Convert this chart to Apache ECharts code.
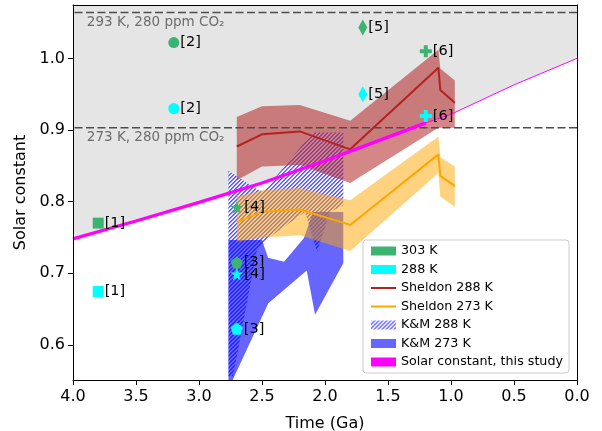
<!DOCTYPE html>
<html><head><meta charset="utf-8">
<script src="https://cdn.jsdelivr.net/npm/echarts@6/dist/echarts.min.js"></script>
<style>html,body{margin:0;padding:0;background:#fff}#c{width:602px;height:431px}</style>
</head><body><div id="c"></div>
<script>
// ---------- data ----------
const xTicks = [0, 0.5, 1, 1.5, 2, 2.5, 3, 3.5, 4];
const yTicks = [0.6, 0.7, 0.8, 0.9, 1.0];

const refLabels = ['[1]', '[2]', '[3]', '[4]', '[5]', '[6]'];
const refTime   = [3.8, 3.2, 2.7, 2.7, 1.7, 1.2];
const s303K     = [0.770, 1.022, 0.715, 0.792, 1.043, 1.010];
const s288K     = [0.6745, 0.930, 0.6225, 0.699, 0.950, 0.9195];

const solarTime = [4.0, 3.5, 3.0, 2.5, 2.0, 1.5, 1.2, 1.0, 0.5, 0.0];
const solarS    = [0.748, 0.773, 0.799, 0.826, 0.857, 0.890, 0.910, 0.922, 0.963, 1.0];
const solarStudyEnd = 1.2;

const sheldonTime = [2.7, 2.5, 2.2, 1.8, 1.1, 1.085, 0.97];
const sheldon288   = [0.877, 0.894, 0.898, 0.873, 0.987, 0.956, 0.938];
const sheldon288Hi = [0.918, 0.933, 0.935, 0.913, 1.012, 0.986, 0.969];
const sheldon288Lo = [0.830, 0.849, 0.851, 0.826, 0.903, 0.903, 0.903];
const sheldon273   = [0.771, 0.786, 0.789, 0.7675, 0.866, 0.836, 0.822];
const sheldon273Hi = [0.807, 0.816, 0.819, 0.802, 0.891, 0.862, 0.849];
const sheldon273Lo = [0.744, 0.750, 0.753, 0.731, 0.840, 0.807, 0.793];

// K&M outlines (time Ga, solar constant)
const km288Outline = [[2.767,0.843],[2.556,0.819],[2.492,0.8135],[2.095,0.897],[1.855,0.897],[1.855,0.795],
  [1.960,0.7856],[2.063,0.730],[2.159,0.7856],[2.437,0.751],[2.540,0.733],[2.730,0.556],[2.767,0.556]];
const km273Outline = [[2.766,0.7466],[2.500,0.7466],[2.452,0.7215],[2.325,0.716],[2.167,0.7494],[2.095,0.7856],
  [1.855,0.7856],[1.855,0.714],[2.079,0.642],[2.145,0.7038],[2.450,0.6583],[2.746,0.546],[2.766,0.546]];

const co2High = 1.064, co2Low = 0.903;
const co2HighLabel = '293 K, 280 ppm CO₂', co2LowLabel = '273 K, 280 ppm CO₂';
const yMin = 0.551, yMax = 1.0745, skyTop = 1.2;

// ---------- styling helpers ----------
const FONT = 'DejaVu Sans';
const GREEN = '#3cb371', CYAN = '#00ffff';
const HATCH_COLOR = '#4040ff';
function makeHatch() {
  const c = document.createElement('canvas'); c.width = 4; c.height = 4;
  const g = c.getContext('2d');
  g.fillStyle = '#ffffff'; g.fillRect(0, 0, 4, 4);
  g.strokeStyle = HATCH_COLOR; g.lineWidth = 1.2;
  g.beginPath();
  g.moveTo(-1, 5); g.lineTo(5, -1);
  g.moveTo(-1, 1); g.lineTo(1, -1);
  g.moveTo(3, 5); g.lineTo(5, 3);
  g.stroke();
  return { image: c, repeat: 'repeat' };
}
const HATCH = makeHatch();
const PENTAGON = 'path://M0,-1L0.951,-0.309L0.588,0.809L-0.588,0.809L-0.951,-0.309Z';
const STAR = (() => {
  let d = 'path://';
  for (let i = 0; i < 10; i++) {
    const r = i % 2 === 0 ? 1 : 0.381;
    const a = -Math.PI / 2 + i * Math.PI / 5;
    d += (i === 0 ? 'M' : 'L') + (r * Math.cos(a)).toFixed(3) + ',' + (r * Math.sin(a)).toFixed(3);
  }
  return d + 'Z';
})();
const PLUS = 'path://M2,0L4,0L4,2L6,2L6,4L4,4L4,6L2,6L2,4L0,4L0,2L2,2Z';
const refSymbols = ['rect', 'circle', PENTAGON, STAR, 'diamond', PLUS];
const refSizes = [11, 11, 12, 13, [9, 16], 12];

function polySeries(name, pts, fill, z) {
  return {
    type: 'custom', name: name, z: z, clip: true, silent: true,
    data: pts, encode: { x: 0, y: 1 },
    itemStyle: { color: fill },
    renderItem: (params, api) => params.dataIndex === 0 ? {
      type: 'polygon',
      shape: { points: pts.map(p => api.coord(p)) },
      style: { fill: fill }
    } : null
  };
}
function hatchSeries(name, pts, z) {
  return {
    type: 'custom', name: name, z: z, clip: true, silent: true,
    data: pts, encode: { x: 0, y: 1 },
    itemStyle: { color: HATCH },
    renderItem: (params, api) => {
      if (params.dataIndex !== 0) return null;
      const P = pts.map(p => api.coord(p));
      const xs = P.map(p => p[0]), ys = P.map(p => p[1]);
      const x0 = Math.min(...xs), x1 = Math.max(...xs), y0 = Math.min(...ys), y1 = Math.max(...ys);
      const h = y1 - y0;
      const children = [{ type: 'polygon', shape: { points: P }, style: { fill: '#ffffff' } }];
      for (let s = Math.floor(x0 - h); s <= x1; s += 4) {
        children.push({ type: 'line', shape: { x1: s, y1: y1, x2: s + h, y2: y0 },
          style: { stroke: HATCH_COLOR, lineWidth: 1.2 } });
      }
      return { type: 'group', children: children, clipPath: { type: 'polygon', shape: { points: P } } };
    }
  };
}
function band(t, hi, lo) {
  const pts = t.map((x, i) => [x, hi[i]]);
  for (let i = t.length - 1; i >= 0; i--) pts.push([t[i], lo[i]]);
  return pts;
}
function markerSeries(name, color, vals) {
  return {
    type: 'scatter', name: name, z: 20, silent: true,
    itemStyle: { color: color, opacity: 1 },
    data: refTime.map((t, i) => ({
      value: [t, vals[i]], symbol: refSymbols[i], symbolSize: refSizes[i],
      label: { show: true, formatter: refLabels[i] }
    })),
    label: { show: true, position: 'right', distance: 1, color: '#000', fontSize: 14.5, fontFamily: FONT }
  };
}

const solarPts = solarTime.map((t, i) => [t, solarS[i]]);
const skyPts = solarPts.concat([[0, skyTop], [4, skyTop]]);

const chart = echarts.init(document.getElementById('c'), null, { renderer: 'canvas' });
chart.setOption({
  animation: false,
  grid: { left: 73, right: 25, top: 5, bottom: 51, containLabel: false, outerBoundsMode: 'none' },
  xAxis: [{
    type: 'value', min: 0, max: 4, interval: 0.5, inverse: true, z: 30,
    axisLine: { show: true, onZero: false, lineStyle: { color: '#000', width: 1 } },
    axisTick: { show: true, length: 5, lineStyle: { color: '#000' } },
    axisLabel: { margin: 9, fontSize: 16, color: '#000', fontFamily: FONT, formatter: v => v.toFixed(1) },
    splitLine: { show: false },
    name: 'Time (Ga)', nameLocation: 'middle', nameGap: 36,
    nameTextStyle: { fontSize: 16, color: '#000', fontFamily: FONT }
  }, {
    type: 'value', min: 0, max: 4, inverse: true, position: 'top', z: 30,
    axisLine: { show: true, onZero: false, lineStyle: { color: '#000', width: 1 } },
    axisTick: { show: false }, axisLabel: { show: false }, splitLine: { show: false }
  }],
  yAxis: [{
    type: 'value', min: yMin, max: yMax, z: 30,
    axisLine: { show: true, onZero: false, lineStyle: { color: '#000', width: 1 } },
    axisTick: { show: true, length: 5, lineStyle: { color: '#000' }, customValues: yTicks },
    axisLabel: { margin: 8, fontSize: 16, color: '#000', fontFamily: FONT, customValues: yTicks, formatter: v => v.toFixed(1) },
    splitLine: { show: false },
    name: 'Solar constant', nameLocation: 'middle', nameGap: 38, nameRotate: 90,
    nameTextStyle: { fontSize: 16, color: '#000', fontFamily: FONT }
  }, {
    type: 'value', min: yMin, max: yMax, position: 'right', z: 30,
    axisLine: { show: true, onZero: false, lineStyle: { color: '#000', width: 1 } },
    axisTick: { show: false }, axisLabel: { show: false }, splitLine: { show: false }
  }],
  legend: {
    orient: 'vertical', left: 363, top: 240, padding: [4, 6, 4, 7],
    itemWidth: 25, itemHeight: 9, itemGap: 4.5, selectedMode: false,
    textStyle: { fontSize: 12.7, fontFamily: FONT, color: '#000', lineHeight: 14 },
    backgroundColor: 'rgba(255,255,255,0.8)', borderColor: '#cccccc', borderWidth: 1, borderRadius: 3,
    data: [
      { name: '303 K', icon: 'rect' },
      { name: '288 K', icon: 'rect' },
      { name: 'Sheldon 288 K', itemStyle: { opacity: 0 } },
      { name: 'Sheldon 273 K', itemStyle: { opacity: 0 } },
      { name: 'K&M 288 K', icon: 'rect', itemStyle: { color: HATCH } },
      { name: 'K&M 273 K', icon: 'rect' },
      { name: 'Solar constant, this study', icon: 'rect' }
    ]
  },
  series: [
    polySeries('sky', skyPts, '#e5e5e5', 1),
    hatchSeries('K&M 288 K', km288Outline, 2),
    polySeries('K&M 273 K', km273Outline, 'rgba(0,0,255,0.6)', 3),
    polySeries('Sheldon 288 K band', band(sheldonTime, sheldon288Hi, sheldon288Lo), 'rgba(178,34,34,0.55)', 4),
    polySeries('Sheldon 273 K band', band(sheldonTime, sheldon273Hi, sheldon273Lo), 'rgba(255,165,0,0.5)', 4),
    {
      type: 'line', name: 'co2high', z: 6, symbol: 'none', silent: true,
      data: [[0, co2High], [4, co2High]],
      lineStyle: { color: '#4d4d4d', width: 1.5, type: [8, 3.5] }
    },
    {
      type: 'line', name: 'co2low', z: 6, symbol: 'none', silent: true,
      data: [[0, co2Low], [4, co2Low]],
      lineStyle: { color: '#4d4d4d', width: 1.5, type: [8, 3.5] }
    },
    {
      type: 'scatter', name: 'co2labels', z: 7, silent: true, symbolSize: 0,
      data: [
        { value: [3.89, 1.0505], label: { formatter: co2HighLabel } },
        { value: [3.89, 0.8895], label: { formatter: co2LowLabel } }
      ],
      label: { show: true, position: 'inside', align: 'left', verticalAlign: 'middle', color: '#4d4d4d', fontSize: 13.5, fontFamily: FONT }
    },
    {
      type: 'line', name: 'Sheldon 288 K', z: 8, symbol: 'none', silent: true,
      data: sheldonTime.map((t, i) => [t, sheldon288[i]]),
      lineStyle: { color: '#b22222', width: 2 }, itemStyle: { color: '#b22222' }
    },
    {
      type: 'line', name: 'Sheldon 273 K', z: 8, symbol: 'none', silent: true,
      data: sheldonTime.map((t, i) => [t, sheldon273[i]]),
      lineStyle: { color: '#ffa500', width: 2 }, itemStyle: { color: '#ffa500' }
    },
    {
      type: 'line', name: 'solar thin', z: 9, symbol: 'none', silent: true,
      data: solarPts, lineStyle: { color: '#ff00ff', width: 1 }
    },
    {
      type: 'line', name: 'Solar constant, this study', z: 9, symbol: 'none', silent: true,
      data: solarPts.filter(p => p[0] >= solarStudyEnd),
      lineStyle: { color: '#ff00ff', width: 3.3 }, itemStyle: { color: '#ff00ff' }
    },
    markerSeries('303 K', GREEN, s303K),
    markerSeries('288 K', CYAN, s288K)
  ]
});
</script></body></html>
